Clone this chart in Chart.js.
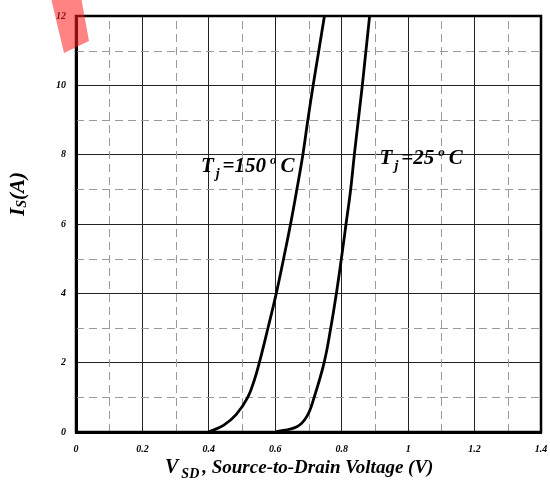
<!DOCTYPE html>
<html>
<head>
<meta charset="utf-8">
<script src="https://cdn.jsdelivr.net/npm/chart.js@4/dist/chart.umd.min.js"></script>
<style>
  html, body { margin: 0; padding: 0; background: #fff; }
  #wrap { width: 550px; height: 489px; position: relative; }
</style>
</head>
<body>
<div id="wrap"><canvas id="chart"></canvas></div>
<script>
// values
const vsd150 = [0.40, 0.445, 0.482, 0.517, 0.537, 0.552, 0.578, 0.603, 0.625, 0.646, 0.665, 0.683, 0.698, 0.714, 0.731, 0.748];
const is150  = [0,    0.2,   0.5,   1,     1.5,   2,     3,     4,     5,     6,     7,     8,     9,     10,    11,    12];
const vsd25  = [0.60, 0.665, 0.695, 0.717, 0.747, 0.767, 0.784, 0.799, 0.813, 0.827, 0.838, 0.850, 0.862, 0.873, 0.884];
const is25   = [0,    0.15,  0.45,  1,     2,     3,     4,     5,     6,     7,     8,     9,     10,    11,    12];
const xTicks = [0, 0.2, 0.4, 0.6, 0.8, 1, 1.2, 1.4];
const yTicks = [0, 2, 4, 6, 8, 10, 12];
const xMinor = [0.1, 0.3, 0.5, 0.7, 0.9, 1.1, 1.3];
const yMinor = [1, 3, 5, 7, 9, 11];

const serif = '"Liberation Serif", "Times New Roman", serif';

function toPoints(xs, ys) {
    return xs.map((x, i) => ({ x: x, y: ys[i] }));
}

// draws runs of text: [text, size, dy, gap] one after the other
function drawRuns(ctx, x, y, runs) {
    runs.forEach(r => {
        ctx.font = 'italic bold ' + r[1] + 'px ' + serif;
        ctx.fillText(r[0], x, y + (r[2] || 0));
        x += ctx.measureText(r[0]).width + (r[3] || 0);
    });
}

const extras = {
    id: 'extras',
    beforeDatasetsDraw(chart) {
        const ctx = chart.ctx;
        const area = chart.chartArea;
        const xs = chart.scales.x, ys = chart.scales.y;
        ctx.save();
        ctx.strokeStyle = '#9a9a9a';
        ctx.lineWidth = 1;
        ctx.setLineDash([8, 5]);
        xMinor.forEach(v => {
            const px = Math.round(xs.getPixelForValue(v)) + 0.5;
            ctx.beginPath();
            ctx.moveTo(px, area.bottom);
            ctx.lineTo(px, area.top);
            ctx.stroke();
        });
        yMinor.forEach(v => {
            const py = Math.round(ys.getPixelForValue(v)) + 0.5;
            ctx.beginPath();
            ctx.moveTo(area.left, py);
            ctx.lineTo(area.right, py);
            ctx.stroke();
        });
        ctx.restore();
    },
    afterDraw(chart) {
        const ctx = chart.ctx;
        const area = chart.chartArea;
        const xs = chart.scales.x, ys = chart.scales.y;
        ctx.save();
        // frame
        ctx.strokeStyle = '#000';
        ctx.lineWidth = 2.5;
        ctx.strokeRect(area.left, area.top, area.right - area.left, area.bottom - area.top);
        ctx.fillStyle = '#000';
        ctx.textBaseline = 'alphabetic';
        ctx.textAlign = 'left';

        // curve labels
        drawRuns(ctx, xs.getPixelForValue(0.376), ys.getPixelForValue(7.51), [
            ['T', 21, 0, 2], ['j', 14, 6, 3], ['=150', 21, 0, 4], ['o', 13, -8, 4], ['C', 21, 0]
        ]);
        drawRuns(ctx, xs.getPixelForValue(0.914), ys.getPixelForValue(7.74), [
            ['T', 21, 0, 2], ['j', 14, 6, 3], ['=25', 21, 0, 4], ['o', 13, -8, 4], ['C', 21, 0]
        ]);

        // x axis title
        drawRuns(ctx, 165, 473, [
            ['V', 20, 0, 3], ['SD', 14, 5, 3], [', Source-to-Drain Voltage (V)', 19, 0]
        ]);

        // y axis title
        ctx.translate(24, 216);
        ctx.rotate(-Math.PI / 2);
        drawRuns(ctx, 0, 0, [['I', 21, 0, 0], ['S', 14, 2, 0], ['(A)', 21, 0]]);
        ctx.setTransform(1, 0, 0, 1, 0, 0);

        // pink marker in the corner
        ctx.fillStyle = 'rgba(255, 30, 30, 0.55)';
        ctx.beginPath();
        ctx.moveTo(50, -6);
        ctx.lineTo(79, -14);
        ctx.lineTo(89, 41);
        ctx.lineTo(64, 53);
        ctx.closePath();
        ctx.fill();
        ctx.restore();
    }
};

new Chart(document.getElementById('chart'), {
    type: 'scatter',
    data: {
        datasets: [{
            label: 'Tj=150 C',
            data: toPoints(vsd150, is150),
            showLine: true,
            borderColor: '#000',
            borderWidth: 2.8,
            pointRadius: 0,
            tension: 0.4
        }, {
            label: 'Tj=25 C',
            data: toPoints(vsd25, is25),
            showLine: true,
            borderColor: '#000',
            borderWidth: 2.8,
            pointRadius: 0,
            tension: 0.4
        }]
    },
    options: {
        responsive: true,
        maintainAspectRatio: false,
        animation: false,
        layout: { padding: { top: 15, right: 0, left: 0, bottom: 0 } },
        plugins: {
            legend: { display: false },
            tooltip: { enabled: false }
        },
        scales: {
            x: {
                type: 'linear',
                min: 0,
                max: 1.4,
                afterFit: scale => { scale.height = 57; scale.paddingRight = 9; },
                afterBuildTicks: scale => { scale.ticks = xTicks.map(v => ({ value: v })); },
                ticks: {
                    padding: 11,
                    color: '#000',
                    maxRotation: 0,
                    font: { family: serif, size: 10, style: 'italic', weight: 'bold' },
                    callback: v => String(+v.toFixed(1))
                },
                grid: { color: '#222', lineWidth: 1, drawTicks: false },
                border: { color: '#000', width: 3 }
            },
            y: {
                type: 'linear',
                min: 0,
                max: 12,
                afterFit: scale => { scale.width = 76; },
                afterBuildTicks: scale => { scale.ticks = yTicks.map(v => ({ value: v })); },
                ticks: {
                    padding: 10,
                    color: '#000',
                    font: { family: serif, size: 10, style: 'italic', weight: 'bold' }
                },
                grid: { color: '#222', lineWidth: 1, drawTicks: false },
                border: { color: '#000', width: 3 }
            }
        }
    },
    plugins: [extras]
});
</script>
</body>
</html>
